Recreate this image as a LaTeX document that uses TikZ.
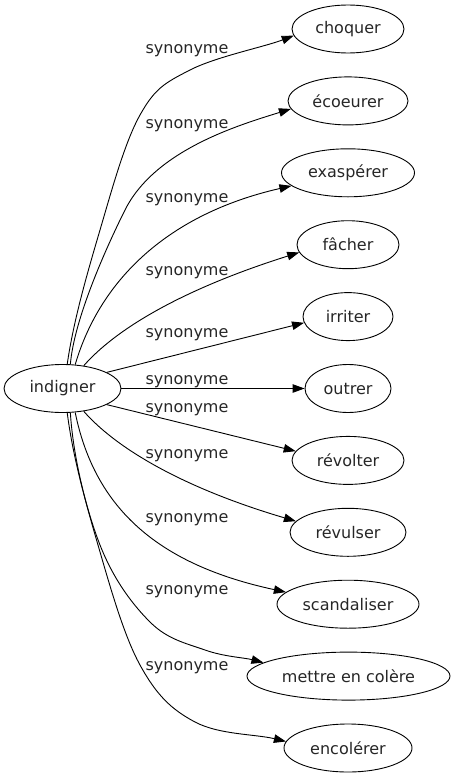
\documentclass[tikz,border=0pt]{standalone}
\usepackage{fontspec}
\setmainfont{DejaVu Sans}
\usetikzlibrary{shapes.geometric,arrows.meta}
\begin{document}
\begin{tikzpicture}[x=1pt,y=-1pt,
  every node/.style={font=\fontsize{16}{19}\selectfont, text=black!85},
  ell/.style={draw=black, ellipse, line width=0.9pt, minimum height=48pt, inner sep=0pt},
  lab/.style={anchor=base, inner sep=0pt},
  edge/.style={line width=0.9pt, -{Triangle[length=12pt,width=8.5pt]}}]
\useasboundingbox (0,0) rectangle (456,779);
\node[ell, minimum width=117pt] (ind) at (62.5,388.5) {indigner};
\node[ell, minimum width=112pt] (n1) at (348,29) {choquer};
\node[ell, minimum width=120pt] (n2) at (348,100.9) {écoeurer};
\node[ell, minimum width=133pt] (n3) at (348,172.8) {exaspérer};
\node[ell, minimum width=102pt] (n4) at (348,244.7) {fâcher};
\node[ell, minimum width=90pt] (n5) at (348,316.6) {irriter};
\node[ell, minimum width=86pt] (n6) at (348,388.5) {outrer};
\node[ell, minimum width=112pt] (n7) at (348,460.4) {révolter};
\node[ell, minimum width=116pt] (n8) at (348,532.3) {révulser};
\node[ell, minimum width=142pt] (n9) at (348,604.2) {scandaliser};
\node[ell, minimum width=203pt] (n10) at (348.5,676.1) {mettre en colère};
\node[ell, minimum width=128pt] (n11) at (348,748) {encolérer};

\draw[edge] (ind.79) .. controls (73.7,319.3) and (87.8,271.5) .. (100,230)
  .. controls (112.2,188.5) and (125,141.7) .. (140,115)
  .. controls (155,88.3) and (164.3,83.2) .. (190,70)
  .. controls (215.7,56.8) and (264,47) .. (n1.187);
\draw[edge] (ind.72) .. controls (74,320) and (105,250) .. (125,210) .. controls (155,150) and (239,125) .. (n2.188);
\draw[edge] (ind.62) .. controls (100,280) and (168,214) .. (n3.193);
\draw[edge] (ind.47) .. controls (115,330) and (180,290) .. (n4.189);
\draw[edge] (ind.20) -- (n5.188);
\draw[edge] (ind.east) -- (n6.west);
\draw[edge] (ind.-20) -- (n7.170);
\draw[edge] (ind.-47) .. controls (115,447) and (180,487) .. (n8.168);
\draw[edge] (ind.-62) .. controls (95,510) and (160,565) .. (n9.169);
\draw[edge] (ind.-72) .. controls (73,456.3) and (86.3,510.2) .. (100,545)
  .. controls (113.7,579.8) and (132.5,604.5) .. (150,622)
  .. controls (167.5,639.5) and (186.2,643.3) .. (205,650)
  .. controls (223.8,656.7) and (244.7,657.7) .. (n10.171);
\draw[edge] (ind.-79) .. controls (73,457.7) and (85.8,503) .. (98,545)
  .. controls (110.2,587) and (123.8,635.5) .. (140,665)
  .. controls (156.2,694.5) and (170.8,709.2) .. (195,722)
  .. controls (219.2,734.8) and (255,734) .. (n11.174);

\node[lab] (l1) at (187,53.5) {synonyme};
\node[lab] (l2) at (187,128) {synonyme};
\node[lab] (l3) at (187,202) {synonyme};
\node[lab] (l4) at (187,275.5) {synonyme};
\node[lab] (l5) at (187,337) {synonyme};
\node[lab] (l6) at (187,384) {synonyme};
\node[lab] (l7) at (187,412) {synonyme};
\node[lab] (l8) at (187,458.5) {synonyme};
\node[lab] (l9) at (187,522) {synonyme};
\node[lab] (l10) at (187,594.5) {synonyme};
\node[lab] (l11) at (187,670.5) {synonyme};
\end{tikzpicture}
\end{document}
